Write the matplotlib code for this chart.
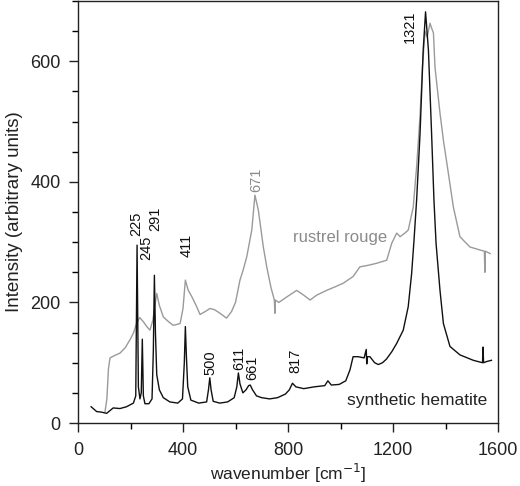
import matplotlib
matplotlib.use("Agg")
import matplotlib.pyplot as plt
from matplotlib.ticker import MultipleLocator

plt.rcParams['font.family'] = ['Liberation Sans', 'DejaVu Sans']

# synthetic hematite (black)
hem_x = [50, 71, 90, 109, 134, 160, 185, 211, 220, 225, 230, 236, 241, 245, 249, 255, 270, 282, 287, 291,
         295, 300, 310, 325, 350, 380, 398, 405, 409, 413, 418, 430, 460, 490, 497, 502, 507, 515, 540, 570,
         595, 605, 611, 617, 628, 640, 650, 656, 665, 680, 700, 730, 760, 790, 805, 817, 830, 860, 900, 940,
         952, 965, 995, 1020, 1036, 1048, 1067, 1090, 1098, 1100, 1102, 1112, 1130, 1144, 1160, 1175, 1195,
         1214, 1239, 1258, 1271, 1280, 1290, 1303, 1315, 1324, 1335, 1347, 1356, 1364, 1379, 1392, 1417, 1455,
         1506, 1541, 1543, 1545, 1557, 1575]
hem_y = [27, 19, 18, 16, 25, 24, 27, 33, 45, 295, 60, 40, 50, 139, 45, 32, 32, 40, 120, 245,
         150, 80, 55, 42, 35, 33, 40, 100, 160, 110, 60, 38, 33, 35, 55, 75, 55, 36, 33, 35,
         42, 60, 83, 65, 50, 55, 62, 63, 55, 45, 42, 40, 42, 48, 55, 66, 60, 57, 60, 62,
         70, 63, 64, 70, 88, 110, 110, 108, 122, 98, 110, 110, 100, 97, 100, 106, 118,
         132, 154, 193, 248, 303, 370, 480, 618, 682, 618, 480, 370, 298, 220, 165, 127, 113,
         104, 100, 126, 100, 102, 104]

# rustrel rouge (grey)
rr_x = [103, 110, 116, 122, 140, 160, 180, 198, 212, 223, 235, 249, 262, 274, 285, 293, 300, 310, 325, 345,
        363, 389, 400, 409, 420, 433, 450, 465, 485, 503, 520, 541, 566, 585, 600, 617, 630, 643, 662, 674,
        687, 706, 719, 735, 748, 750, 752, 765, 795, 833, 860, 884, 909, 947, 980, 1011, 1048, 1074, 1110,
        1138, 1176, 1195, 1214, 1227, 1245, 1258, 1277, 1290, 1303, 1312, 1322, 1330, 1341, 1347, 1354, 1360,
        1379, 1392, 1411, 1430, 1455, 1475, 1493, 1531, 1548, 1550, 1552, 1570]
rr_y = [19, 40, 90, 108, 112, 116, 125, 138, 150, 165, 175, 168, 160, 154, 170, 195, 215, 195, 176, 168,
        162, 165, 190, 237, 220, 210, 195, 180, 185, 190, 188, 182, 174, 185, 200, 237, 255, 276, 320, 378,
        353, 292, 259, 225, 204, 182, 204, 200, 209, 220, 212, 204, 212, 220, 226, 232, 243, 259, 262,
        265, 270, 298, 315, 309, 315, 320, 358, 425, 510, 590, 650, 640, 663, 655, 647, 590,
        514, 469, 414, 358, 309, 300, 292, 287, 285, 250, 285, 281]

peak_labels = ['225', '245', '291', '411', '500', '611', '661', '817', '1321']
peak_label_x = [223, 260, 293, 415, 505, 613, 663, 829, 1265]
peak_label_y = [310, 270, 318, 275, 80, 88, 72, 83, 630]
rr_label = '671'
rr_label_x = 679
rr_label_y = 383

fig = plt.figure(figsize=(5.2, 4.86), dpi=100)
ax = fig.add_axes([0.15, 0.1296, 0.8077, 0.8684])

ax.plot(rr_x, rr_y, color='#9a9a9a', lw=1.0)
ax.plot(hem_x, hem_y, color='#111111', lw=1.0)

ax.set_xlim(0, 1600)
ax.set_ylim(0, 700)
ax.xaxis.set_major_locator(MultipleLocator(400))
ax.xaxis.set_minor_locator(MultipleLocator(200))
ax.yaxis.set_major_locator(MultipleLocator(200))
ax.yaxis.set_minor_locator(MultipleLocator(50))
ax.tick_params(which='major', direction='out', length=6.5, width=1.0, labelsize=13,
               colors='#222222', pad=6)
ax.tick_params(axis='x', which='major', pad=7)
ax.tick_params(which='minor', direction='out', length=4.5, width=1.0)
for s in ax.spines.values():
    s.set_linewidth(1.0)
    s.set_color('#222222')

ax.set_xlabel('wavenumber [cm$^{-1}$]', fontsize=12.5, color='#222222', labelpad=2)
ax.set_ylabel('Intensity (arbitrary units)', fontsize=13.5, color='#222222', labelpad=5)

for t, x, y in zip(peak_labels, peak_label_x, peak_label_y):
    ax.text(x, y, t, rotation=90, ha='center', va='bottom', fontsize=10.5, color='#111111')
ax.text(rr_label_x, rr_label_y, rr_label, rotation=90, ha='center', va='bottom', fontsize=10.5,
        color='#8a8a8a')

ax.text(1000, 308, 'rustrel rouge', ha='center', va='center', fontsize=12, color='#8a8a8a')
ax.text(1293, 38, 'synthetic hematite', ha='center', va='center', fontsize=12.5, color='#222222')

fig.savefig('out.png', dpi=100)
